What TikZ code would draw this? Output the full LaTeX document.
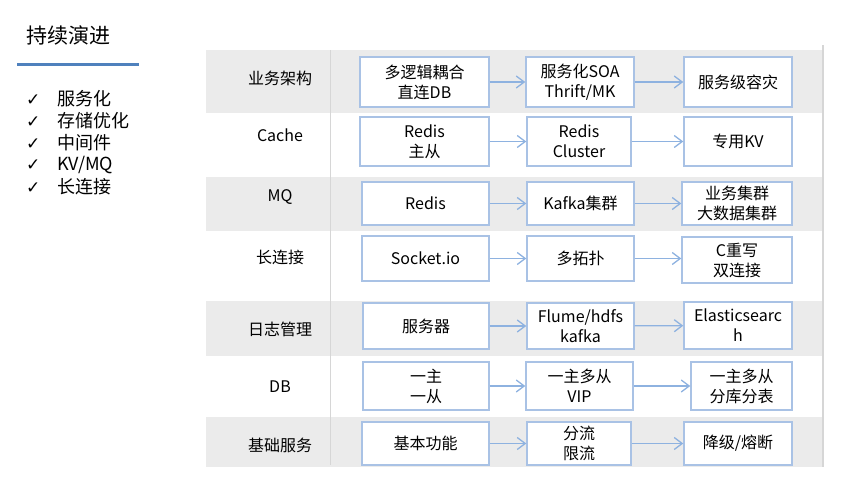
\documentclass[tikz,border=0pt]{standalone}
\usepackage{fontspec}
\setmainfont{Noto Sans CJK SC}
\newfontfamily\symfont{DejaVu Sans}
\usetikzlibrary{arrows.meta}
\definecolor{diagramBand}{HTML}{EBEBEB}
\definecolor{diagramRule}{HTML}{D6D6D6}
\definecolor{diagramBox}{HTML}{A9C2E5}
\definecolor{diagramFlow}{HTML}{8EB2E0}
\definecolor{diagramTitle}{HTML}{4F81BD}

\begin{document}
\begin{tikzpicture}[
    x=1pt,y=-1pt,
    every node/.style={font=\fontsize{16}{20}\selectfont,align=center,inner sep=0pt},
    band/.style={fill=diagramBand,draw=none},
    rowlabel/.style={anchor=center},
    box/.style={draw=diagramBox,fill=white,line width=1.4pt},
    flow/.style={-{Straight Barb[length=8pt,width=12pt,line width=1.3pt]},draw=diagramFlow,line width=1.3pt},
    bullet/.style={anchor=west,font=\fontsize{18}{20}\selectfont}
]
\useasboundingbox (0,0) rectangle (859,496);
\fill[band] (206,50) rectangle (823,113);
\fill[band] (206,177) rectangle (823,231);
\fill[band] (206,301) rectangle (823,356);
\fill[band] (206,417) rectangle (823,467);
\draw[diagramRule,line width=1pt] (330,50) -- (330,465);
\draw[diagramRule,line width=1.5pt] (823,45) -- (823,467);

\node[anchor=west,font=\fontsize{21}{24}\selectfont] (title) at (26,35) {持续演进};
\draw[diagramTitle,line width=3pt] (17,64) -- (139,64);
\node[bullet] (tick1) at (26,99) {{\symfont\fontsize{17}{18}\selectfont ✓}\hspace{17pt}服务化};
\node[bullet] (tick2) at (26,121) {{\symfont\fontsize{17}{18}\selectfont ✓}\hspace{17pt}存储优化};
\node[bullet] (tick3) at (26,143) {{\symfont\fontsize{17}{18}\selectfont ✓}\hspace{17pt}中间件};
\node[bullet] (tick4) at (26,165) {{\symfont\fontsize{17}{18}\selectfont ✓}\hspace{17pt}KV/MQ};
\node[bullet] (tick5) at (26,187) {{\symfont\fontsize{17}{18}\selectfont ✓}\hspace{17pt}长连接};

\node[rowlabel] (arch) at (280,78) {业务架构};
\node[rowlabel] (cache) at (280,135) {Cache};
\node[rowlabel] (mq) at (280,197) {MQ};
\node[rowlabel] (conn) at (280,257) {长连接};
\node[rowlabel] (log) at (280,329) {日志管理};
\node[rowlabel] (db) at (280,387) {DB};
\node[rowlabel] (base) at (280,445) {基础服务};

\node[box,minimum width=129pt,minimum height=50pt] (arch1) at (424.5,82) {多逻辑耦合\\直连DB};
\node[box,minimum width=108pt,minimum height=50pt] (arch2) at (580,82) {服务化SOA\\Thrift/MK};
\node[box,minimum width=108pt,minimum height=50pt] (arch3) at (738,82) {服务级容灾};
\node[box,minimum width=129pt,minimum height=49pt] (cache1) at (424.5,141.5) {Redis\\主从};
\node[box,minimum width=104pt,minimum height=49pt] (cache2) at (579,141.5) {Redis\\Cluster};
\node[box,minimum width=108pt,minimum height=49pt] (cache3) at (738,141.5) {专用KV};
\node[box,minimum width=127pt,minimum height=43pt] (mq1) at (425.5,203.5) {Redis};
\node[box,minimum width=107pt,minimum height=43pt] (mq2) at (580.5,203.5) {Kafka集群};
\node[box,minimum width=110pt,minimum height=43pt] (mq3) at (737,203.5) {业务集群\\大数据集群};
\node[box,minimum width=127pt,minimum height=45pt] (conn1) at (425.5,258.5) {Socket.io};
\node[box,minimum width=107pt,minimum height=45pt] (conn2) at (580.5,258.5) {多拓扑};
\node[box,minimum width=110pt,minimum height=46pt] (conn3) at (737,260) {C重写\\双连接};
\node[box,minimum width=126pt,minimum height=46pt] (log1) at (426,326) {服务器};
\node[box,minimum width=107pt,minimum height=46pt] (log2) at (580.5,326) {Flume/hdfs\\kafka};
\node[box,minimum width=108pt,minimum height=47pt] (log3) at (738,325.5) {Elasticsearc\\h};
\node[box,minimum width=126pt,minimum height=48pt] (db1) at (426,386) {一主\\一从};
\node[box,minimum width=107pt,minimum height=48pt] (db2) at (579.5,386) {一主多从\\VIP};
\node[box,minimum width=101pt,minimum height=48pt] (db3) at (741.5,386) {一主多从\\分库分表};
\node[box,minimum width=127pt,minimum height=43pt] (base1) at (425.5,443.5) {基本功能};
\node[box,minimum width=104pt,minimum height=43pt] (base2) at (579,443.5) {分流\\限流};
\node[box,minimum width=108pt,minimum height=43pt] (base3) at (738,443.5) {降级/熔断};

\draw[flow] (arch1) -- (arch2);
\draw[flow] (arch2) -- (arch3);
\draw[flow] (cache1) -- (cache2);
\draw[flow] (cache2) -- (cache3);
\draw[flow] (mq1) -- (mq2);
\draw[flow] (mq2) -- (mq3);
\draw[flow] (conn1) -- (conn2);
\draw[flow] (conn2) -- (conn3.west |- conn2);
\draw[flow] (log1) -- (log2);
\draw[flow] (log2) -- (log3);
\draw[flow] (db1) -- (db2);
\draw[flow] (db2) -- (db3);
\draw[flow] (base1) -- (base2);
\draw[flow] (base2) -- (base3);
\end{tikzpicture}
\end{document}
